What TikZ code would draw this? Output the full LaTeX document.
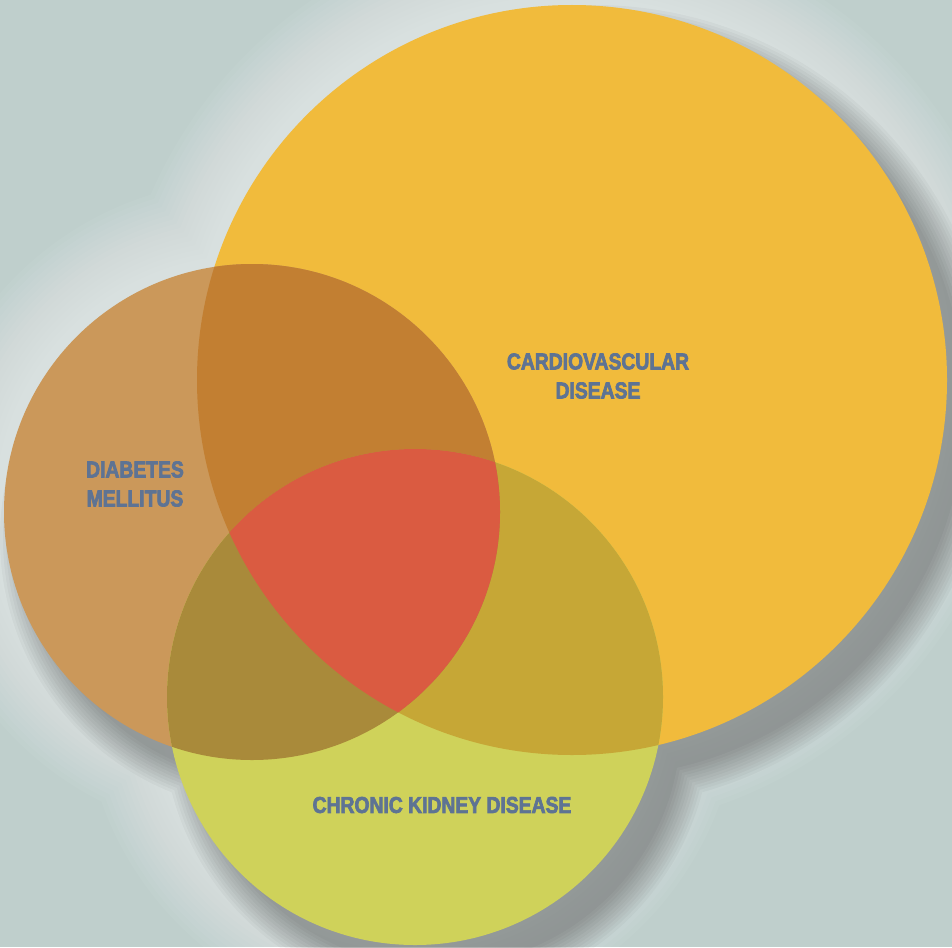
\documentclass[tikz,border=0pt]{standalone}
\usepackage{fontspec}
\setmainfont{Liberation Sans}[FakeStretch=0.84, BoldFeatures={FakeBold=3}]
\definecolor{bg}{HTML}{BFCFCC}
\definecolor{cvd}{HTML}{F1BB3C}
\definecolor{dm}{HTML}{CB985A}
\definecolor{ckd}{HTML}{CFD25A}
\definecolor{cvddm}{HTML}{C27F32}
\definecolor{cvdckd}{HTML}{C6A736}
\definecolor{dmckd}{HTML}{A98A3A}
\definecolor{allthree}{HTML}{DA5B41}
\definecolor{lbl}{HTML}{5E7393}
\tikzset{
  lab/.style={text=lbl, font=\bfseries\fontsize{23}{29}\selectfont, align=center, inner sep=0pt},
}
\begin{document}
\begin{tikzpicture}[x=1pt,y=-1pt]
\useasboundingbox (0,0) rectangle (952,947);
\fill[bg] (0,0) rectangle (952,947);
% light glow
\foreach \k in {1,...,16}{
  \fill[white, fill opacity=0.045]
    (568,376) circle ({(375+5*\k)*1pt})
    (248,508) circle ({(248+5*\k)*1pt})
    (411,693) circle ({(248+5*\k)*1pt});
}
% dark shadow
\foreach \k in {0,...,10}{
  \fill[black, fill opacity=0.03]
    (594,406) circle ({(371+3*\k)*1pt})
    (274,538) circle ({(244+3*\k)*1pt})
    (437,723) circle ({(244+3*\k)*1pt});
}
% single circles
\fill[cvd] (572,380) circle (375pt);
\fill[dm] (252,512) circle (248pt);
\fill[ckd] (415,697) circle (248pt);
% pairwise overlaps
\begin{scope}
  \clip (572,380) circle (375pt);
  \fill[cvddm] (252,512) circle (248pt);
\end{scope}
\begin{scope}
  \clip (572,380) circle (375pt);
  \fill[cvdckd] (415,697) circle (248pt);
\end{scope}
\begin{scope}
  \clip (252,512) circle (248pt);
  \fill[dmckd] (415,697) circle (248pt);
\end{scope}
% triple overlap
\begin{scope}
  \clip (572,380) circle (375pt);
  \clip (252,512) circle (248pt);
  \fill[allthree] (415,697) circle (248pt);
\end{scope}
% labels
\node[lab] (cvdlabel) at (598,376) {CARDIOVASCULAR\\DISEASE};
\node[lab] (dmlabel) at (135,484) {DIABETES\\MELLITUS};
\node[lab] (ckdlabel) at (442,805) {CHRONIC KIDNEY DISEASE};
\end{tikzpicture}
\end{document}
